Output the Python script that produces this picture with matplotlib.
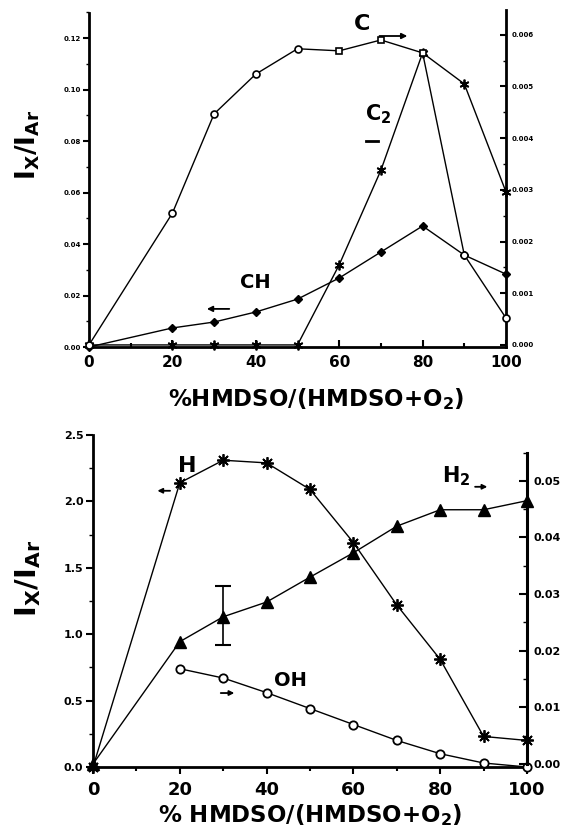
import matplotlib.pyplot as plt
from matplotlib.ticker import MultipleLocator, FormatStrFormatter

plt.rcParams['font.family'] = 'DejaVu Sans'
plt.rcParams['font.weight'] = 'bold'
plt.rcParams['mathtext.default'] = 'bf'

# ---- top panel data ----
x_top = [0, 20, 30, 40, 50, 60, 70, 80, 90, 100]
c_vals = [0.0, 0.00255, 0.00447, 0.00524, 0.00573, 0.00569, 0.0059, 0.00565, 0.00174, 0.00052]   # right axis
c2_vals = [0.0, 0.0, 0.0, 0.0, 0.0, 0.00155, 0.00338, 0.00565, 0.00505, 0.00296]               # right axis
ch_vals = [0.0, 0.0074, 0.0097, 0.0136, 0.0186, 0.0268, 0.0369, 0.047, 0.0357, 0.0283]         # left axis

# ---- bottom panel data ----
x_bot = [0, 20, 30, 40, 50, 60, 70, 80, 90, 100]
h_vals = [0.0, 2.14, 2.31, 2.29, 2.09, 1.69, 1.22, 0.81, 0.23, 0.20]                           # left axis
h2_vals = [0.0, 0.0216, 0.026, 0.0286, 0.033, 0.0373, 0.042, 0.0449, 0.0449, 0.0465]          # right axis
x_oh = [20, 30, 40, 50, 60, 70, 80, 90, 100]
oh_vals = [0.74, 0.67, 0.56, 0.44, 0.32, 0.20, 0.10, 0.03, 0.0]                                # left axis
h2_err_x = [30]
h2_err_y = [0.0262]
h2_err = [0.0052]

fig = plt.figure(figsize=(5.79, 8.32), dpi=100)
W, H = 579.0, 832.0

# ================= top panel =================
ax1 = fig.add_axes([89 / W, 1 - 347 / H, (506 - 89) / W, (347 - 10) / H])
ax1r = ax1.twinx()
ax1.set_xlim(0, 100)
ax1.set_ylim(0, 0.1309)
ax1r.set_ylim(-0.00004, 0.00648)

ax1.plot(x_top, ch_vals, color='black', lw=1, marker='D', ms=4, mfc='black', zorder=3, clip_on=False)
ax1r.plot(x_top, c2_vals, color='black', lw=1, marker=(6, 2, 0), ms=7, mew=1.3, zorder=3, clip_on=False)
ax1r.plot(x_top, c_vals, color='black', lw=1, zorder=3, clip_on=False)
ax1r.plot(x_top[:5] + x_top[8:], c_vals[:5] + c_vals[8:], ls='none', marker='o', ms=5,
          mfc='white', mec='black', mew=1.2, zorder=4, clip_on=False)
ax1r.plot(x_top[5:8], c_vals[5:8], ls='none', marker='s', ms=5, mfc='white', mec='black',
          mew=1.2, zorder=4, clip_on=False)

ax1.spines['top'].set_visible(False)
ax1r.spines['top'].set_visible(False)
ax1r.spines['left'].set_visible(False)
ax1r.spines['bottom'].set_visible(False)
ax1.spines['right'].set_visible(False)
for sp in ['left', 'bottom']:
    ax1.spines[sp].set_linewidth(2)
ax1r.spines['right'].set_linewidth(2)
ax1.spines['left'].set_bounds(0, 0.1297)

ax1.xaxis.set_major_locator(MultipleLocator(20))
ax1.xaxis.set_minor_locator(MultipleLocator(10))
ax1.yaxis.set_major_locator(MultipleLocator(0.02))
ax1.yaxis.set_minor_locator(MultipleLocator(0.01))
ax1.yaxis.set_major_formatter(FormatStrFormatter('%.2f'))
ax1r.yaxis.set_major_locator(MultipleLocator(0.001))
ax1r.yaxis.set_minor_locator(MultipleLocator(0.0005))
ax1r.yaxis.set_major_formatter(FormatStrFormatter('%.3f'))

ax1.tick_params(axis='x', which='both', direction='in', labelsize=11, width=1.5, pad=6)
ax1.tick_params(axis='x', which='major', length=5)
ax1.tick_params(axis='x', which='minor', length=3)
ax1.tick_params(axis='y', which='major', direction='out', length=4, width=1.5, labelsize=5, pad=2)
ax1.tick_params(axis='y', which='minor', direction='out', length=2, width=1)
ax1r.tick_params(axis='y', which='major', direction='in', length=4, width=1.5, labelsize=5, pad=4)
ax1r.tick_params(axis='y', which='minor', direction='in', length=2, width=1)

ax1.text(65.5, 0.1254, 'C', fontsize=16, fontweight='heavy', ha='center', va='center')
ax1.annotate('', xy=(77, 0.1208), xytext=(69, 0.1208),
             arrowprops=dict(arrowstyle='-|>', color='black', lw=1.3, mutation_scale=8))
ax1.text(66.2, 0.0905, 'C$_2$', fontsize=15, fontweight='heavy', ha='left', va='center')
ax1.plot([66.4, 69.2], [0.0800, 0.0800], color='black', lw=2)
ax1.text(40, 0.0249, 'CH', fontsize=14, fontweight='heavy', ha='center', va='center')
ax1.annotate('', xy=(27.6, 0.0148), xytext=(34.3, 0.0148),
             arrowprops=dict(arrowstyle='-|>', color='black', lw=1.3, mutation_scale=8))

fig.text(316 / W, 1 - 399 / H, '%HMDSO/(HMDSO+O$_2$)', fontsize=16.5, fontweight='heavy',
         ha='center', va='center')
fig.text(28 / W, 1 - 145 / H, r'$\mathbf{I_X/I_{Ar}}$', fontsize=19, rotation=90,
         ha='center', va='center')

# ================= bottom panel =================
ax2 = fig.add_axes([93 / W, 1 - 767 / H, (527 - 93) / W, (767 - 435) / H])
ax2r = ax2.twinx()
ax2.set_xlim(0, 100)
ax2.set_ylim(0, 2.5)
ax2r.set_ylim(-0.00053, 0.0581)

ax2.plot(x_bot, h_vals, color='black', lw=1, marker=(8, 2, 0), ms=9, mew=1.3, zorder=3, clip_on=False)
ax2.plot(x_oh, oh_vals, color='black', lw=1, marker='o', ms=6, mfc='white', mec='black',
         mew=1.3, zorder=3, clip_on=False)
ax2r.plot(x_bot, h2_vals, color='black', lw=1, marker='^', ms=8, mfc='black', zorder=3, clip_on=False)
ax2r.errorbar(h2_err_x, h2_err_y, yerr=h2_err, fmt='none', ecolor='black', elinewidth=1.2,
              capsize=6, capthick=1.5)

ax2.spines['top'].set_visible(False)
ax2r.spines['top'].set_visible(False)
ax2.spines['right'].set_visible(False)
ax2r.spines['left'].set_visible(False)
ax2r.spines['bottom'].set_visible(False)
for sp in ['left', 'bottom']:
    ax2.spines[sp].set_linewidth(2)
ax2r.spines['right'].set_linewidth(2.2)
ax2r.spines['right'].set_bounds(0, 0.055)

ax2.xaxis.set_major_locator(MultipleLocator(20))
ax2.xaxis.set_minor_locator(MultipleLocator(10))
ax2.yaxis.set_major_locator(MultipleLocator(0.5))
ax2.yaxis.set_minor_locator(MultipleLocator(0.25))
ax2.yaxis.set_major_formatter(FormatStrFormatter('%.1f'))
ax2r.yaxis.set_minor_locator(MultipleLocator(0.005))
ax2r.yaxis.set_major_formatter(FormatStrFormatter('%.2f'))
ax2r.set_yticks([0, 0.01, 0.02, 0.03, 0.04, 0.05])

ax2.tick_params(axis='x', which='major', direction='out', length=5, width=1.5, labelsize=13, pad=5)
ax2.tick_params(axis='x', which='minor', direction='out', length=3, width=1.5)
ax2.tick_params(axis='y', which='major', direction='out', length=5, width=1.5, labelsize=8, pad=2)
ax2.tick_params(axis='y', which='minor', direction='out', length=3, width=1)
ax2r.tick_params(axis='y', which='major', direction='in', length=6, width=1.5, labelsize=8, pad=5)
ax2r.tick_params(axis='y', which='minor', direction='in', length=3, width=1)

ax2.text(21.7, 2.27, 'H', fontsize=16, fontweight='heavy', ha='center', va='center')
ax2.annotate('', xy=(14.2, 2.08), xytext=(18.4, 2.08),
             arrowprops=dict(arrowstyle='-|>', color='black', lw=1.3, mutation_scale=7))
ax2.text(80.4, 2.19, 'H$_2$', fontsize=15, fontweight='heavy', ha='left', va='center')
ax2.annotate('', xy=(91.5, 2.11), xytext=(87.4, 2.11),
             arrowprops=dict(arrowstyle='-|>', color='black', lw=1.3, mutation_scale=7))
ax2.text(45.4, 0.655, 'OH', fontsize=14, fontweight='heavy', ha='center', va='center')
ax2.annotate('', xy=(33.2, 0.557), xytext=(28.8, 0.557),
             arrowprops=dict(arrowstyle='-|>', color='black', lw=1.3, mutation_scale=7))

fig.text(310 / W, 1 - 815 / H, '% HMDSO/(HMDSO+O$_2$)', fontsize=16.5, fontweight='heavy',
         ha='center', va='center')
fig.text(28 / W, 1 - 578 / H, r'$\mathbf{I_X/I_{Ar}}$', fontsize=21, rotation=90,
         ha='center', va='center')

fig.savefig('out.png', dpi=100)
